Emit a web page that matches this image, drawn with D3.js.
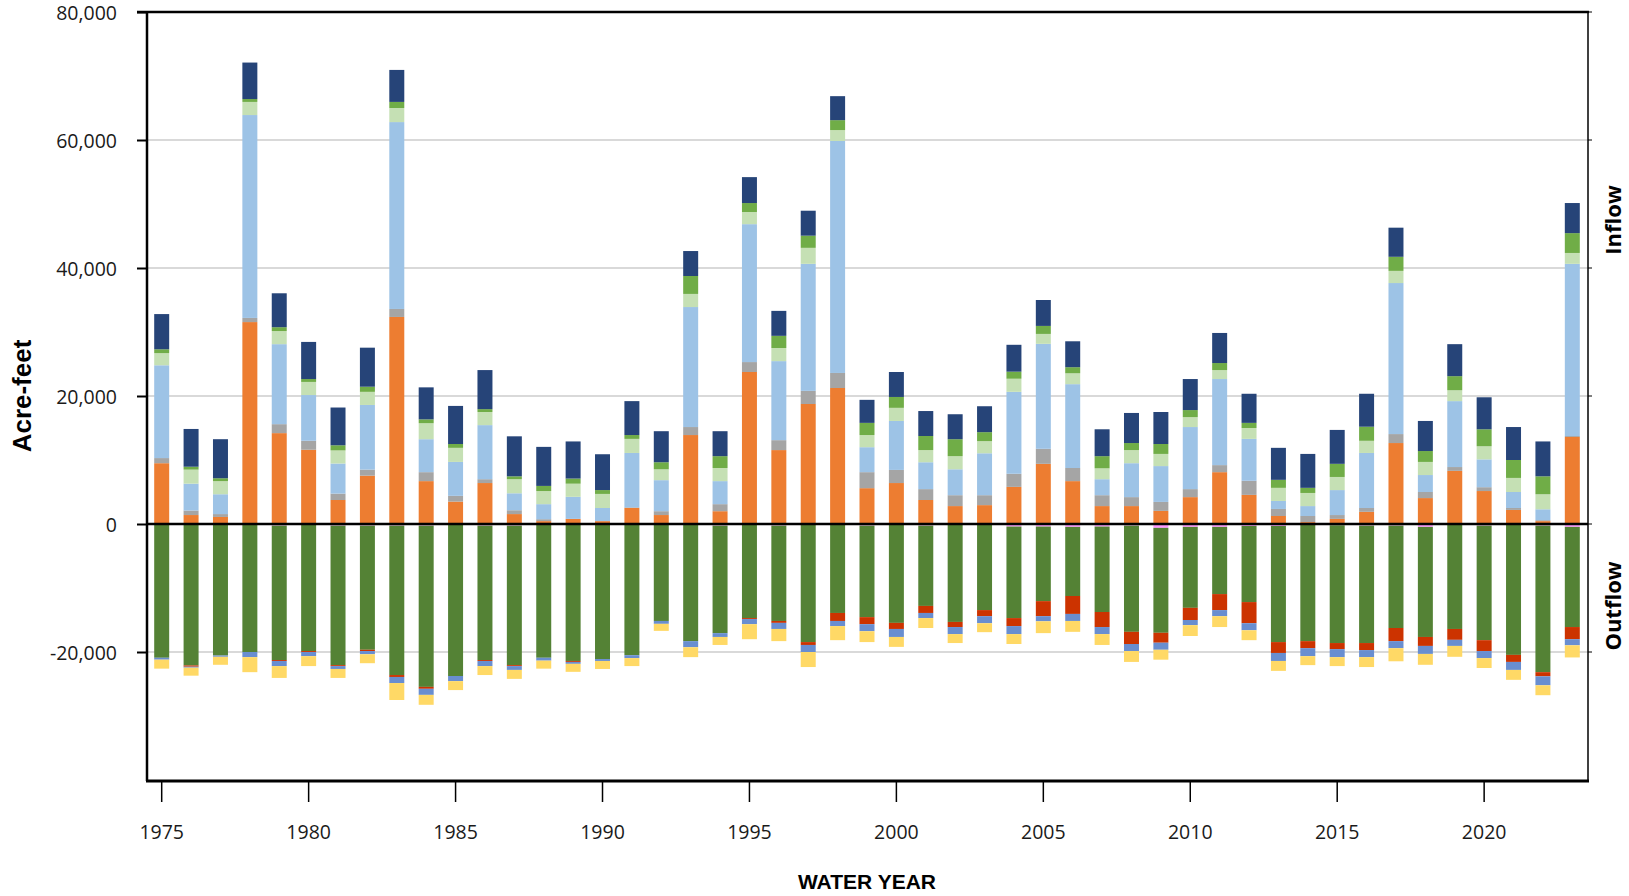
<!DOCTYPE html>
<html>
<head>
<meta charset="utf-8">
<title>Inflow and Outflow by Water Year</title>
<style>
  body { margin: 0; background: #fff; }
  #chart svg { display: block; }
</style>
</head>
<body>
<div id="chart"></div>
<script src="https://cdn.jsdelivr.net/npm/d3@7"></script>
<script>
// water years on the x axis
const years = [1975, 1976, 1977, 1978, 1979, 1980, 1981, 1982, 1983, 1984,
  1985, 1986, 1987, 1988, 1989, 1990, 1991, 1992, 1993, 1994,
  1995, 1996, 1997, 1998, 1999, 2000, 2001, 2002, 2003, 2004,
  2005, 2006, 2007, 2008, 2009, 2010, 2011, 2012, 2013, 2014,
  2015, 2016, 2017, 2018, 2019, 2020, 2021, 2022, 2023];

// inflow components (acre-feet), bottom to top
const inOrange = [9500, 1400, 1100, 31550, 14200, 11600, 3750, 7550, 32350, 6700,
  3500, 6400, 1550, 450, 800, 450, 2500, 1400, 13900, 2000,
  23750, 11550, 18750, 21250, 5600, 6400, 3750, 2800, 2950, 5800,
  9400, 6700, 2800, 2800, 2050, 4200, 8100, 4550, 1250, 300,
  800, 1900, 12650, 4050, 8300, 5150, 2200, 450, 13600];
const inGray = [800, 700, 450, 650, 1400, 1400, 1000, 950, 1250, 1400,
  900, 600, 600, 300, 0, 0, 100, 600, 1250, 1100,
  1550, 1550, 2050, 2350, 2500, 2050, 1700, 1700, 1550, 2050,
  2350, 2050, 1700, 1400, 1400, 1250, 1100, 2200, 1100, 950,
  600, 600, 1400, 950, 600, 600, 300, 150, 150];
const inLightBlue = [14500, 4200, 3100, 31700, 12500, 7150, 4700, 10100, 29200, 5150,
  5300, 8450, 2650, 2350, 3450, 2050, 8500, 4850, 18750, 3600,
  21550, 12350, 19850, 36250, 3900, 7650, 4200, 4050, 6550, 12800,
  16400, 13100, 2500, 5300, 5600, 9700, 13450, 6550, 1250, 1550,
  3900, 8600, 23600, 2650, 10300, 4350, 2500, 1700, 26900];
const inLightGreen = [1900, 2200, 2050, 2050, 2050, 2050, 2050, 2050, 2200, 2500,
  2200, 2050, 2200, 2050, 2050, 2200, 2200, 1700, 2050, 2050,
  1900, 2050, 2500, 1700, 1900, 2050, 1900, 2050, 1900, 2050,
  1550, 1700, 1700, 2050, 1900, 1550, 1400, 1700, 2050, 2050,
  2050, 1900, 1900, 2050, 1700, 2050, 2200, 2350, 1700];
const inGreen = [600, 450, 450, 450, 600, 450, 800, 800, 950, 600,
  600, 450, 450, 800, 800, 600, 600, 1100, 2800, 1850,
  1400, 1900, 1900, 1550, 1900, 1700, 2200, 2650, 1400, 1100,
  1250, 950, 1900, 1100, 1550, 1100, 1100, 800, 1250, 800,
  2050, 2200, 2200, 1700, 2200, 2650, 2800, 2800, 3100];
const inDarkBlue = [5500, 5900, 6100, 5700, 5300, 5800, 5900, 6100, 5000, 5000,
  5950, 6100, 6250, 6100, 5800, 5600, 5300, 4850, 3900, 3900,
  4050, 3900, 3900, 3750, 3600, 3900, 3900, 3900, 4050, 4200,
  4050, 4050, 4200, 4700, 5000, 4850, 4700, 4550, 5000, 5300,
  5300, 5150, 4550, 4700, 5000, 5000, 5150, 5450, 4700];

// outflow components (acre-feet, drawn below zero), top to bottom
const outPink = [0, 0, 0, 150, 250, 0, 250, 250, 250, 250,
  100, 250, 250, 0, 0, 0, 100, 100, 100, 250,
  100, 250, 0, 0, 250, 100, 250, 100, 100, 400,
  400, 450, 400, 250, 600, 450, 450, 300, 300, 150,
  200, 250, 250, 450, 150, 250, 150, 250, 450];
const outDarkGreen = [20900, 22100, 20550, 19850, 21000, 19850, 21800, 19400, 23350, 25200,
  23650, 21000, 21800, 20900, 21400, 21100, 20400, 15050, 18200, 16800,
  14600, 14900, 18450, 13900, 14300, 15350, 12550, 15200, 13350, 14300,
  11650, 10800, 13350, 16600, 16400, 12650, 10500, 11900, 18150, 18150,
  18400, 18350, 16000, 17200, 16250, 17900, 20300, 22900, 15650];
const outRed = [0, 200, 0, 0, 150, 150, 150, 200, 300, 300,
  0, 150, 150, 0, 150, 0, 0, 0, 0, 0,
  150, 300, 450, 1250, 1100, 950, 1100, 800, 950, 1250,
  2350, 2800, 2350, 1900, 1550, 1900, 2500, 3300, 1700, 1100,
  950, 1100, 2050, 1400, 1700, 1700, 1100, 650, 1900];
const outBlue = [300, 150, 200, 800, 800, 650, 450, 500, 950, 950,
  800, 800, 600, 450, 300, 300, 450, 450, 950, 600,
  800, 950, 1100, 800, 1100, 1250, 800, 1100, 1100, 1250,
  800, 1100, 1100, 1100, 1100, 800, 950, 1100, 1250, 1250,
  1250, 1100, 1100, 1250, 950, 1100, 1250, 1400, 950];
const outYellow = [1400, 1250, 1250, 2350, 1850, 1550, 1400, 1400, 2650, 1550,
  1400, 1400, 1400, 1250, 1250, 1250, 1250, 1100, 1550, 1250,
  2350, 1900, 2350, 2200, 1700, 1550, 1550, 1400, 1400, 1550,
  1850, 1700, 1700, 1700, 1550, 1700, 1700, 1550, 1550, 1400,
  1400, 1550, 2050, 1700, 1700, 1550, 1550, 1550, 1900];

const yTicks = [80000, 60000, 40000, 20000, 0, -20000];

const inflowKeys = ['orange', 'gray', 'lightBlue', 'lightGreen', 'green', 'darkBlue'];
const outflowKeys = ['pink', 'darkGreen', 'red', 'blue', 'yellow'];
const colors = {
  orange: '#ED7D31', gray: '#A5A5A5', lightBlue: '#9DC3E6', lightGreen: '#C5E0B4',
  green: '#70AD47', darkBlue: '#264478',
  pink: '#FF99FF', darkGreen: '#548235', red: '#CC3300', blue: '#698ED0', yellow: '#FFD966'
};

const rows = years.map((yr, i) => ({
  year: yr,
  orange: inOrange[i], gray: inGray[i], lightBlue: inLightBlue[i],
  lightGreen: inLightGreen[i], green: inGreen[i], darkBlue: inDarkBlue[i],
  pink: -outPink[i], darkGreen: -outDarkGreen[i], red: -outRed[i],
  blue: -outBlue[i], yellow: -outYellow[i]
}));

const W = 1629, H = 896,
      plotL = 147, plotR = 1588, plotT = 12, plotB = 781;

const svg = d3.select('#chart').append('svg')
  .attr('width', W)
  .attr('height', H);

const x = d3.scaleBand()
  .domain(years)
  .range([plotL, plotR - 1])
  .paddingInner(0.49)
  .paddingOuter(0.245);

const y = d3.scaleLinear()
  .domain([-40000, 80000])
  .range([plotB - 1, plotT]);

// gridlines
svg.append('g')
  .selectAll('line')
  .data(yTicks.filter(d => d !== 0 && d !== 80000))
  .enter().append('line')
    .attr('x1', plotL).attr('x2', plotR)
    .attr('y1', d => y(d)).attr('y2', d => y(d))
    .attr('stroke', '#d9d9d9')
    .attr('stroke-width', 2);

// stacked bars
const inStack = d3.stack().keys(inflowKeys)(rows);
const outStack = d3.stack().keys(outflowKeys).offset(d3.stackOffsetDiverging)(rows);

svg.append('g')
  .selectAll('g')
  .data(inStack.concat(outStack))
  .enter().append('g')
    .attr('fill', s => colors[s.key])
  .selectAll('rect')
  .data(s => s)
  .enter().append('rect')
    .attr('x', d => x(d.data.year))
    .attr('width', x.bandwidth())
    .attr('y', d => y(Math.max(d[0], d[1])))
    .attr('height', d => Math.abs(y(d[0]) - y(d[1])));

// zero line
svg.append('line')
  .attr('x1', plotL).attr('x2', plotR)
  .attr('y1', y(0)).attr('y2', y(0))
  .attr('stroke', '#000')
  .attr('stroke-width', 2.5);

// y axis
const fmt = d3.format(',');
const yAxis = svg.append('g')
  .attr('transform', `translate(${plotL},0)`)
  .call(d3.axisLeft(y)
    .tickValues(yTicks)
    .tickSize(10)
    .tickPadding(20)
    .tickFormat(d => fmt(d).replace('\u2212', '-')));
yAxis.select('.domain').remove();
yAxis.selectAll('line').attr('stroke', '#000').attr('stroke-width', 2);
yAxis.selectAll('text')
  .attr('dy', '0.39em')
  .attr('fill', '#1a1a1a')
  .style('font-family', '"Open Sans", sans-serif')
  .style('font-size', '19.5px');

// x axis
const xAxis = svg.append('g')
  .attr('transform', `translate(0,${plotB})`)
  .call(d3.axisBottom(x)
    .tickValues(years.filter(d => d % 5 === 0))
    .tickSize(21)
    .tickPadding(23));
xAxis.select('.domain').remove();
xAxis.selectAll('line').attr('stroke', '#000').attr('stroke-width', 1.5);
xAxis.selectAll('text')
  .attr('fill', '#1a1a1a')
  .style('font-family', '"Open Sans", sans-serif')
  .style('font-size', '19.5px');

// small ticks on the right border
svg.append('g')
  .selectAll('line')
  .data(yTicks)
  .enter().append('line')
    .attr('x1', plotR).attr('x2', plotR + 4)
    .attr('y1', d => y(d)).attr('y2', d => y(d))
    .attr('stroke', '#000')
    .attr('stroke-width', 1);

// frame
svg.append('line').attr('x1', plotL - 10).attr('x2', plotR + 1).attr('y1', plotT).attr('y2', plotT)
  .attr('stroke', '#000').attr('stroke-width', 2.5);
svg.append('line').attr('x1', plotL).attr('x2', plotL).attr('y1', plotT).attr('y2', plotB)
  .attr('stroke', '#000').attr('stroke-width', 2.5);
svg.append('line').attr('x1', plotR).attr('x2', plotR).attr('y1', plotT).attr('y2', plotB)
  .attr('stroke', '#000').attr('stroke-width', 1.5);
svg.append('line').attr('x1', plotL - 1).attr('x2', plotR + 1).attr('y1', plotB).attr('y2', plotB)
  .attr('stroke', '#000').attr('stroke-width', 3);

// titles
svg.append('text')
  .attr('transform', 'translate(22,396) rotate(-90)')
  .attr('text-anchor', 'middle')
  .attr('dominant-baseline', 'central')
  .style('font-family', '"Liberation Sans", Arial, sans-serif')
  .style('font-weight', 'bold')
  .style('font-size', '26px')
  .text('Acre-feet');

svg.append('text')
  .attr('x', 867).attr('y', 889)
  .attr('text-anchor', 'middle')
  .style('font-family', '"Liberation Sans", Arial, sans-serif')
  .style('font-weight', 'bold')
  .style('font-size', '21px')
  .text('WATER YEAR');

[['Inflow', 220], ['Outflow', 606]].forEach(([label, cy]) => {
  svg.append('text')
    .attr('transform', `translate(1612,${cy}) rotate(-90)`)
    .attr('text-anchor', 'middle')
    .attr('dominant-baseline', 'central')
    .style('font-family', '"Open Sans", sans-serif')
    .style('font-weight', 'bold')
    .style('font-size', '22px')
    .text(label);
});
</script>
</body>
</html>
